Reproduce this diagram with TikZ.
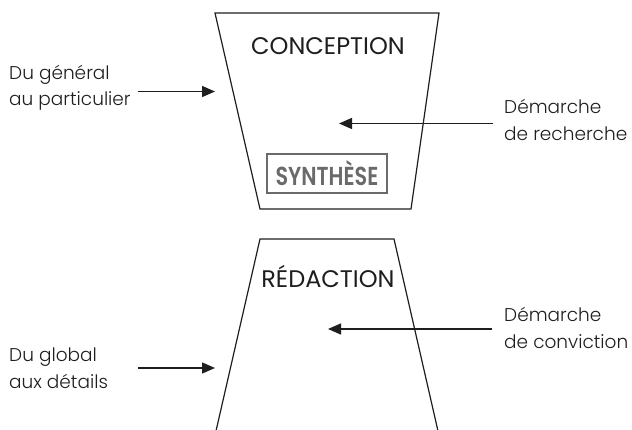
\documentclass[tikz,border=0pt]{standalone}
\usepackage{fontspec}
\setmainfont{Poppins}[UprightFont=* Light]
\newfontfamily\titlefont{Poppins}
\newfontfamily\synfont{Poppins}[UprightFont=* SemiBold]
\usetikzlibrary{arrows.meta}
\definecolor{ink}{HTML}{1E1E1E}
\definecolor{syngray}{HTML}{6A6A6A}
\begin{document}
\begin{tikzpicture}[x=1pt,y=-1pt,
  funnel/.style={draw=ink, line width=1.2pt},
  flow/.style={draw=ink, line width=1.4pt, -{Triangle[length=13pt,width=11pt]}},
  title/.style={text=ink, font=\titlefont\fontsize{24}{28}\selectfont, inner sep=0pt},
  lbl/.style={text=ink, font=\fontsize{18.5}{26.5}\selectfont, align=left, inner sep=0pt, anchor=west},
  synbox/.style={draw=syngray, line width=1.2pt, text=syngray, minimum width=120pt, minimum height=39pt, inner sep=0pt, font=\synfont\fontsize{26}{30}\selectfont}]
\useasboundingbox (0,0) rectangle (632,430);
% top funnel
\coordinate (t1) at (215,13);
\coordinate (t2) at (439,13);
\coordinate (t3) at (411,209);
\coordinate (t4) at (260,209);
\draw[funnel] (t1) -- (t2) -- (t3) -- (t4) -- cycle;
\node[title] (concep) at (328,46) {CONCEPTION};
\node[synbox] (syn) at (327,173.5) {\scalebox{0.8}[1]{SYNTHÈSE}};
% bottom funnel
\coordinate (b1) at (216,431);
\coordinate (b2) at (260,239);
\coordinate (b3) at (394,239);
\coordinate (b4) at (438,431);
\draw[funnel] (b1) -- (b2) -- (b3) -- (b4);
\node[title] (redac) at (328,276) {RÉDACTION};
% labels
\node[lbl] (l1) at (9,88) {Du général\\au particulier};
\node[lbl] (r1) at (504,120) {Démarche\\de recherche};
\node[lbl] (l2) at (9,368) {Du global\\aux détails};
\node[lbl] (r2) at (504,328) {Démarche\\de conviction};
% arrows
\coordinate (a1s) at (138,91.5);
\coordinate (a1e) at (215,91.5);
\coordinate (a2s) at (493,123.5);
\coordinate (a2e) at (339,123.5);
\coordinate (a3s) at (492,329);
\coordinate (a3e) at (328,329);
\coordinate (a4s) at (138,368);
\coordinate (a4e) at (215,368);
\draw[flow] (a1s) -- (a1e);
\draw[flow] (a2s) -- (a2e);
\draw[flow] (a3s) -- (a3e);
\draw[flow] (a4s) -- (a4e);
\end{tikzpicture}
\end{document}
